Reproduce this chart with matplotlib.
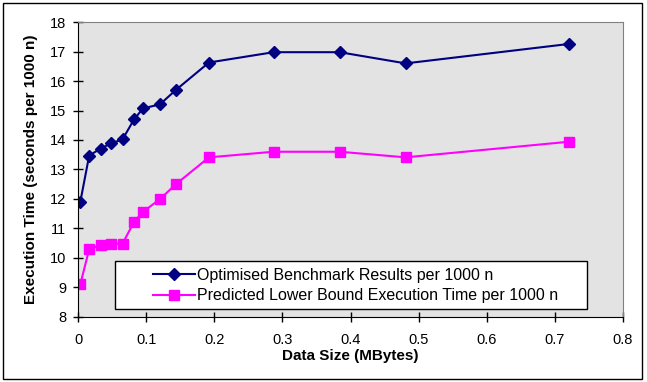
import matplotlib
matplotlib.use('Agg')
import matplotlib.pyplot as plt
from matplotlib.patches import Rectangle

plt.rcParams['font.family'] = ['Liberation Sans', 'DejaVu Sans']

# dados
data_size = [0.003, 0.016, 0.033, 0.048, 0.065, 0.082, 0.095, 0.120, 0.143, 0.192, 0.287, 0.384, 0.481, 0.721]
optimised = [11.9, 13.47, 13.71, 13.88, 14.02, 14.70, 15.07, 15.21, 15.69, 16.63, 16.98, 16.98, 16.60, 17.26]
predicted = [9.10, 10.29, 10.43, 10.48, 10.48, 11.22, 11.56, 11.99, 12.49, 13.41, 13.60, 13.60, 13.41, 13.94]

label_opt = 'Optimised Benchmark Results per 1000 n'
label_pred = 'Predicted Lower Bound Execution Time per 1000 n'

fig = plt.figure(figsize=(6.47, 3.82), dpi=100)
ax = fig.add_axes([0.121, 0.171, 0.8415, 0.771])
ax.set_facecolor('#E3E3E3')

ax.plot(data_size, optimised, color='#000080', marker='D', markersize=6, lw=1.5, label=label_opt)
ax.plot(data_size, predicted, color='#FF00FF', marker='s', markersize=7, lw=1.5, label=label_pred)

ax.set_xlim(0, 0.8)
ax.set_ylim(8, 18)
ax.set_xticks([0, 0.1, 0.2, 0.3, 0.4, 0.5, 0.6, 0.7, 0.8])
ax.set_xticklabels(['0', '0.1', '0.2', '0.3', '0.4', '0.5', '0.6', '0.7', '0.8'])
ax.set_yticks(range(8, 19))
ax.tick_params(direction='inout', length=7, width=1, labelsize=10.5)
ax.tick_params(axis='x', pad=8)
ax.tick_params(axis='y', pad=5)

for s in ['top', 'right']:
    ax.spines[s].set_color('#808080')
for s in ['left', 'bottom']:
    ax.spines[s].set_color('black')

ax.set_xlabel('Data Size (MBytes)', fontsize=11, fontweight='bold', labelpad=2)
ax.set_ylabel('Execution Time (seconds per 1000 n)', fontsize=11, fontweight='bold', labelpad=9)

# caixa da legenda
ax.add_patch(Rectangle((0.0674, 0.026), 0.934 - 0.0674, 0.163, transform=ax.transAxes,
                       facecolor='white', edgecolor='black', lw=1, zorder=4))
leg = ax.legend(loc='center left', bbox_to_anchor=(0.1378, 0.106), fontsize=11.5, frameon=False,
                borderaxespad=0, borderpad=0, handlelength=2.6, handletextpad=0.15, labelspacing=0.35)
leg.set_zorder(5)

# moldura externa
fig.patches.append(Rectangle((3 / 647, 3 / 382), 639 / 647, 376 / 382, transform=fig.transFigure,
                             fill=False, edgecolor='black', lw=1))

fig.savefig('out.png', dpi=100)
